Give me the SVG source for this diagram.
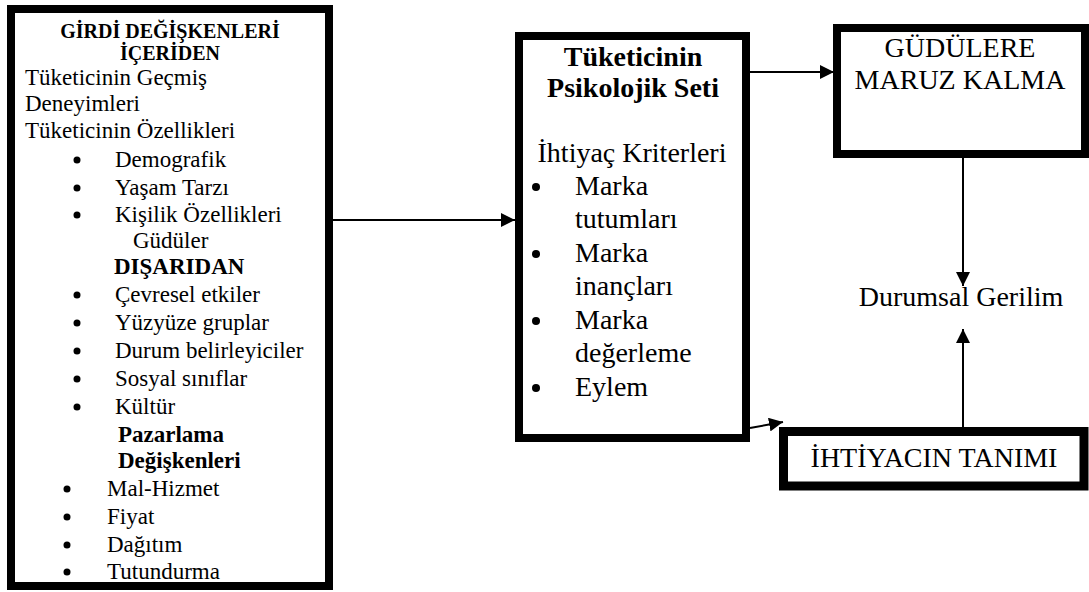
<svg xmlns="http://www.w3.org/2000/svg" width="1089" height="592" viewBox="0 0 1089 592">
<style>
.box{fill:#fff;stroke:#000;stroke-width:8}
.t{font-family:"Liberation Serif","Times New Roman",serif;fill:#000}
.s{font-size:23px}
.l{font-size:28px}
.b{font-weight:bold}
.c{text-anchor:middle}
.con{stroke:#000;stroke-width:2;fill:none}
.dot{fill:#000}
</style>
<defs>
<marker id="ah" markerUnits="userSpaceOnUse" markerWidth="14" markerHeight="14" refX="14" refY="7" orient="auto">
<path d="M0,0 L14,7 L0,14 z" fill="#000"/>
</marker>
</defs>
<rect width="1089" height="592" fill="#fff"/>
<g id="connectors">
<line class="con" x1="333" y1="220" x2="515" y2="220" marker-end="url(#ah)"/>
<line class="con" x1="750" y1="72" x2="834" y2="72" marker-end="url(#ah)"/>
<line class="con" x1="750" y1="428" x2="783" y2="422" marker-end="url(#ah)"/>
<line class="con" x1="963" y1="158" x2="963" y2="286" marker-end="url(#ah)"/>
<line class="con" x1="963" y1="427" x2="963" y2="329" marker-end="url(#ah)"/>
</g>
<g id="inputs">
<rect class="box" x="11" y="9" width="318" height="577"/>
<text class="t b c" x="170" y="38" font-size="20">GİRDİ DEĞİŞKENLERİ</text>
<text class="t b c" x="170" y="60" font-size="20">İÇERİDEN</text>
<text class="t s" x="25" y="85">Tüketicinin Geçmiş</text>
<text class="t s" x="25" y="111">Deneyimleri</text>
<text class="t s" x="25" y="138">Tüketicinin Özellikleri</text>
<circle class="dot" cx="77" cy="160" r="3.5"/><text class="t s" x="115" y="167">Demografik</text>
<circle class="dot" cx="77" cy="188" r="3.5"/><text class="t s" x="115" y="195">Yaşam Tarzı</text>
<circle class="dot" cx="77" cy="215" r="3.5"/><text class="t s" x="115" y="222">Kişilik Özellikleri</text>
<text class="t s" x="133" y="248">Güdüler</text>
<text class="t s b" x="114" y="274" font-size="20">DIŞARIDAN</text>
<circle class="dot" cx="77" cy="295" r="3.5"/><text class="t s" x="115" y="302">Çevresel etkiler</text>
<circle class="dot" cx="77" cy="323" r="3.5"/><text class="t s" x="115" y="330">Yüzyüze gruplar</text>
<circle class="dot" cx="77" cy="351" r="3.5"/><text class="t s" x="115" y="358">Durum belirleyiciler</text>
<circle class="dot" cx="77" cy="379" r="3.5"/><text class="t s" x="115" y="386">Sosyal sınıflar</text>
<circle class="dot" cx="77" cy="407" r="3.5"/><text class="t s" x="115" y="414">Kültür</text>
<text class="t s b" x="118" y="442">Pazarlama</text>
<text class="t s b" x="118" y="468">Değişkenleri</text>
<circle class="dot" cx="67" cy="489" r="3.5"/><text class="t s" x="107" y="496">Mal-Hizmet</text>
<circle class="dot" cx="67" cy="517" r="3.5"/><text class="t s" x="107" y="524">Fiyat</text>
<circle class="dot" cx="67" cy="545" r="3.5"/><text class="t s" x="107" y="552">Dağıtım</text>
<circle class="dot" cx="67" cy="572" r="3.5"/><text class="t s" x="107" y="579">Tutundurma</text>
</g>
<g id="psych-set">
<rect class="box" x="519" y="36" width="227" height="402"/>
<text class="t l b c" x="633" y="66">Tüketicinin</text>
<text class="t l b c" x="633" y="97">Psikolojik Seti</text>
<text class="t l c" x="632" y="162">İhtiyaç Kriterleri</text>
<circle class="dot" cx="536" cy="187" r="4"/><text class="t l" x="575" y="195">Marka</text>
<text class="t l" x="575" y="228">tutumları</text>
<circle class="dot" cx="536" cy="254" r="4"/><text class="t l" x="575" y="262">Marka</text>
<text class="t l" x="575" y="295">inançları</text>
<circle class="dot" cx="536" cy="321" r="4"/><text class="t l" x="575" y="329">Marka</text>
<text class="t l" x="575" y="362">değerleme</text>
<circle class="dot" cx="536" cy="388" r="4"/><text class="t l" x="575" y="396">Eylem</text>
</g>
<g id="exposure">
<rect class="box" x="837" y="28" width="248" height="126"/>
<text class="t l c" x="960" y="57">GÜDÜLERE</text>
<text class="t l c" x="960" y="89">MARUZ KALMA</text>
</g>
<g id="tension">
<text class="t l c" x="961" y="306">Durumsal Gerilim</text>
</g>
<g id="need">
<rect class="box" x="783.5" y="431.5" width="300.5" height="54.5" style="stroke-width:9"/>
<text class="t l c" x="934" y="467">İHTİYACIN TANIMI</text>
</g>
</svg>
